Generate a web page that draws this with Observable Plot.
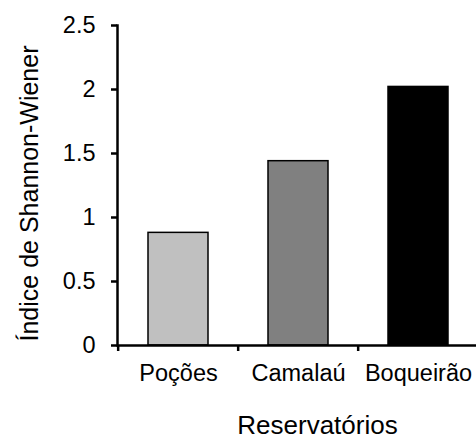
<!DOCTYPE html>
<html>
<head>
<meta charset="utf-8">
<script src="https://cdn.jsdelivr.net/npm/d3@7"></script>
<script src="https://cdn.jsdelivr.net/npm/@observablehq/plot@0.6"></script>
<style>
  html, body { margin: 0; padding: 0; background: #fff; }
</style>
</head>
<body>
<div id="chart"></div>
<script>
const reservatorios = ["Poções", "Camalaú", "Boqueirão"];
const valores = [0.88, 1.44, 2.02];
const cores = ["#c0c0c0", "#808080", "#000000"];
const yTicks = [0, 0.5, 1, 1.5, 2, 2.5];
const yTickLabels = ["0", "0.5", "1", "1.5", "2", "2.5"];
const tituloX = "Reservatórios";
const tituloY = "Índice de Shannon-Wiener";

const data = reservatorios.map((r, i) => ({nome: r, valor: valores[i]}));

const W = 476, H = 439;
const mL = 117, mR = -3, mT = 25, mB = 94;
const step = (W - mL - mR) / reservatorios.length;

const chart = Plot.plot({
  width: W,
  height: H,
  marginLeft: mL,
  marginRight: mR,
  marginTop: mT,
  marginBottom: mB,
  style: {fontFamily: "'Liberation Sans', Arial, sans-serif", fontSize: "23px", color: "#000", background: "#fff"},
  x: {type: "band", domain: reservatorios, paddingInner: 0.5, paddingOuter: 0.25, axis: null},
  y: {domain: [0, 2.5], axis: null},
  color: {domain: reservatorios, range: cores},
  marks: [
    Plot.barY(data, {x: "nome", y: "valor", fill: "nome", stroke: "#000", strokeWidth: 1.5}),
    Plot.frame({anchor: "left", stroke: "#000", strokeWidth: 2.5}),
    Plot.ruleY([0], {stroke: "#000", strokeWidth: 2.5}),
    Plot.axisY({ticks: yTicks, tickFormat: (d) => yTickLabels[yTicks.indexOf(d)], tickSize: 6, tickPadding: 16, strokeWidth: 2.5, fontSize: 23.5, label: null}),
    Plot.axisX({tickSize: 0, tickPadding: 19, fontSize: 23.5, label: null}),
    Plot.axisX({tickSize: 6, text: null, dx: -step / 2, strokeWidth: 2.5, label: null}),
    Plot.text([tituloX], {frameAnchor: "bottom", dy: 88, dx: 19, fontSize: 26, text: (d) => d}),
    Plot.text([tituloY], {frameAnchor: "left", textAnchor: "middle", rotate: -90, dx: -88, dy: 8, fontSize: 25, text: (d) => d})
  ]
});
document.getElementById("chart").appendChild(chart);
</script>
</body>
</html>
